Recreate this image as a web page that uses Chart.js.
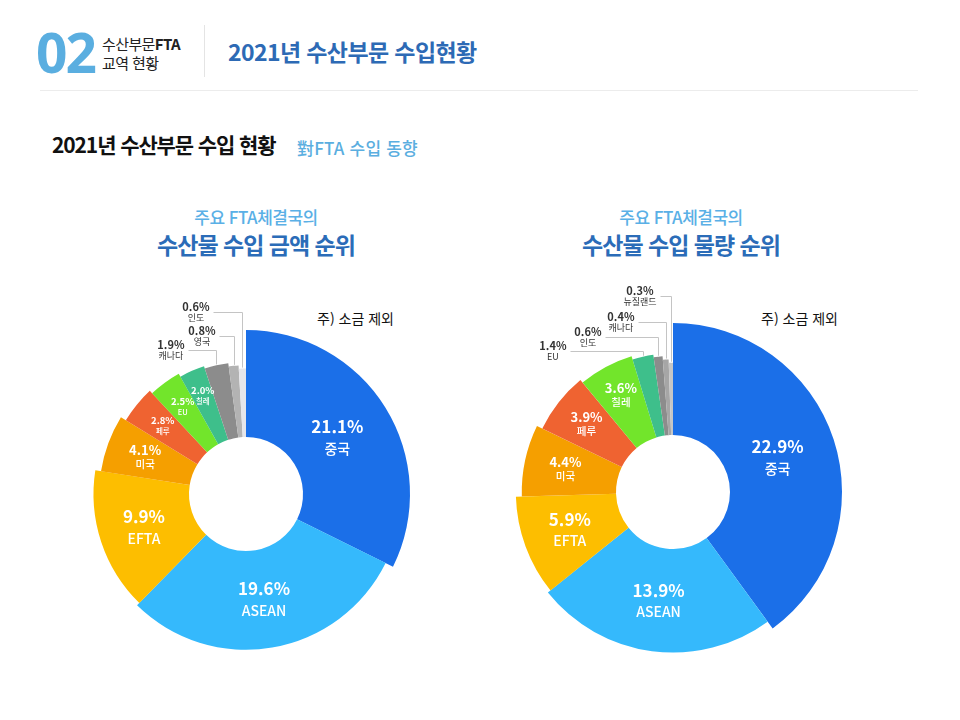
<!DOCTYPE html>
<html lang="ko">
<head>
<meta charset="UTF-8">
<title>2021년 수산부문 수입현황</title>
<script src="https://cdn.jsdelivr.net/npm/chart.js"></script>
<style>
  body { margin: 0; width: 960px; height: 720px; background: #fff; position: relative; overflow: hidden;
         font-family: 'Noto Sans CJK KR', 'Noto Sans', sans-serif; }
  .t { position: absolute; white-space: nowrap; line-height: 1; }
  .c { transform: translateX(-50%); }
  #num { left: 36px; top: 24px; font-size: 55px; font-weight: 700; color: #5aaee0; letter-spacing: -2px; font-family: 'Noto Sans', sans-serif; }
  .sect { left: 102px; font-size: 15px; color: #222; letter-spacing: -0.6px; }
  #sep { position: absolute; left: 204px; top: 25px; width: 1px; height: 52px; background: #e4e4e4; }
  #head { left: 228px; top: 40px; font-size: 23px; font-weight: 700; color: #2d6ab5; letter-spacing: -0.6px; }
  #rule { position: absolute; left: 40px; top: 90px; width: 878px; height: 1px; background: #ececec; }
  #sub { left: 52px; top: 134px; font-size: 21px; font-weight: 700; color: #111; letter-spacing: -1.1px; }
  #sub2 { left: 297px; top: 139px; font-size: 17px; font-weight: 500; color: #5aaee0; letter-spacing: 0.2px; }
  .ct1 { top: 208px; font-size: 17px; font-weight: 500; color: #5ab0e6; letter-spacing: -0.5px; }
  .ct2 { top: 233px; font-size: 23px; font-weight: 700; color: #2b6cb8; letter-spacing: -1px; }
  .note { top: 311px; font-size: 14px; color: #111; }
  canvas { position: absolute; top: 280px; }
</style>
</head>
<body>
<div class="t" id="num">02</div>
<div class="t sect" style="top:36px">수산부문<b>FTA</b></div>
<div class="t sect" style="top:55px">교역 현황</div>
<div id="sep"></div>
<div class="t" id="head">2021년 수산부문 수입현황</div>
<div id="rule"></div>
<div class="t" id="sub">2021년 수산부문 수입 현황</div>
<div class="t" id="sub2">對FTA 수입 동향</div>

<div class="t c ct1" style="left:256px">주요 FTA체결국의</div>
<div class="t c ct2" style="left:256px">수산물 수입 금액 순위</div>
<div class="t c ct1" style="left:681px">주요 FTA체결국의</div>
<div class="t c ct2" style="left:681px">수산물 수입 물량 순위</div>
<div class="t note" style="left:317px">주) 소금 제외</div>
<div class="t note" style="left:761px">주) 소금 제외</div>

<canvas id="valueChart" width="480" height="400" style="left:0"></canvas>
<canvas id="volumeChart" width="480" height="400" style="left:480px"></canvas>

<script>
// 수입 금액 순위 (비중 %)
const valueLabels = ['중국', 'ASEAN', 'EFTA', '미국', '페루', 'EU', '칠레', '캐나다', '영국', '인도'];
const valueShares = [21.1, 19.6, 9.9, 4.1, 2.8, 2.5, 2.0, 1.9, 0.8, 0.6];

// 수입 물량 순위 (비중 %)
const volumeLabels = ['중국', 'ASEAN', 'EFTA', '미국', '페루', '칠레', 'EU', '인도', '캐나다', '뉴질랜드'];
const volumeShares = [22.9, 13.9, 5.9, 4.4, 3.9, 3.6, 1.4, 0.6, 0.4, 0.3];

// 순위별 색 / 바깥 반지름 비율
const valueColors = ['#1b6fe8', '#35b9fc', '#fdbe00', '#f59f00', '#ef6331', '#72e52b', '#3ebf8b', '#8c8c8c', '#b3b3b3', '#e6e6ea'];
const volumeColors = ['#1b6fe8', '#35b9fc', '#fdbe00', '#f59f00', '#ef6331', '#72e52b', '#3ebf8b', '#8c8c8c', '#a6a6a6', '#c6c6c6'];
const rankScale = [1, 0.95, 0.93, 0.895, 0.86, 0.84, 0.82, 0.805, 0.785, 0.765];

const FONT = "'Noto Sans CJK KR', 'Noto Sans', sans-serif";

// 작은 조각의 지시선 (위로 올라가는 길이, 왼쪽으로 뻗는 길이)
const valueCallouts = [{ lift: 14, run: 28 }, { lift: 29, run: 15 }, { lift: 56, run: 29 }];
const volumeCallouts = [{ lift: 5, run: 73 }, { lift: 19, run: 53 }, { lift: 37, run: 28 }, { lift: 66, run: 11 }];

// 순위에 따라 조각마다 바깥 반지름을 다르게
const rankedRadius = {
    id: 'rankedRadius',
    beforeDatasetsDraw(chart) {
        const area = chart.chartArea;
        const maxR = Math.min(area.right - area.left, area.bottom - area.top) / 2;
        chart.getDatasetMeta(0).data.forEach((arc, i) => {
            arc.outerRadius = maxR * rankScale[i];
        });
    }
};

function sliceLabels(callouts) {
    return {
        id: 'sliceLabels',
        afterDatasetsDraw(chart) {
            const ctx = chart.ctx;
            const area = chart.chartArea;
            const maxR = Math.min(area.right - area.left, area.bottom - area.top) / 2;
            const names = chart.data.labels;
            const vals = chart.data.datasets[0].data;
            let k = 0;
            chart.getDatasetMeta(0).data.forEach((arc, i) => {
                const { x, y, startAngle, endAngle, innerRadius, outerRadius } = arc;
                const mid = (startAngle + endAngle) / 2;
                const span = (endAngle - startAngle) * 180 / Math.PI;
                const pct = vals[i].toFixed(1) + '%';
                ctx.save();
                ctx.textAlign = 'center';
                ctx.textBaseline = 'middle';
                if (vals[i] >= 2) {
                    const r = (innerRadius + maxR) / 2 - 3;
                    const cx = x + Math.cos(mid) * r;
                    const cy = y + Math.sin(mid) * r;
                    const [big, small, gap] = span >= 35 ? [17, 14, 11] : span >= 20 ? [13, 10.5, 7] : [9.5, 7.5, 5.5];
                    ctx.fillStyle = '#fff';
                    ctx.font = `700 ${big}px ${FONT}`;
                    ctx.fillText(pct, cx, cy - gap);
                    ctx.font = `500 ${small}px ${FONT}`;
                    ctx.fillText(names[i], cx, cy + gap);
                } else {
                    const c = callouts[k++];
                    const ax = Math.round(x + Math.cos(mid) * (outerRadius + 1)) + 0.5;
                    const ay = y + Math.sin(mid) * (outerRadius + 1);
                    const ey = Math.round(ay - c.lift) + 0.5;
                    const sx = ax - c.run;
                    ctx.strokeStyle = '#c4c4c4';
                    ctx.lineWidth = 1;
                    ctx.beginPath();
                    ctx.moveTo(ax, ay);
                    ctx.lineTo(ax, ey);
                    ctx.lineTo(sx, ey);
                    ctx.stroke();
                    ctx.font = `700 11px ${FONT}`;
                    const w1 = ctx.measureText(pct).width;
                    ctx.font = `400 9px ${FONT}`;
                    const w2 = ctx.measureText(names[i]).width;
                    const tx = sx - 4 - Math.max(w1, w2) / 2;
                    ctx.fillStyle = '#333';
                    ctx.font = `700 11px ${FONT}`;
                    ctx.fillText(pct, tx, ey - 6);
                    ctx.font = `400 9px ${FONT}`;
                    ctx.fillText(names[i], tx, ey + 5);
                }
                ctx.restore();
            });
        }
    };
}

function makeChart(id, labels, values, colors, callouts, cx, cy, maxR) {
    const canvas = document.getElementById(id);
    const W = canvas.width, H = canvas.height;
    return new Chart(canvas.getContext('2d'), {
        type: 'doughnut',
        data: {
            labels: labels,
            datasets: [{
                data: values,
                backgroundColor: colors,
                borderWidth: 0
            }]
        },
        options: {
            responsive: false,
            animation: false,
            events: [],
            cutout: 57,
            layout: {
                padding: { left: cx - maxR, top: cy - maxR, right: W - cx - maxR, bottom: H - cy - maxR }
            },
            plugins: {
                legend: { display: false },
                tooltip: { enabled: false }
            }
        },
        plugins: [rankedRadius, sliceLabels(callouts)]
    });
}

makeChart('valueChart', valueLabels, valueShares, valueColors, valueCallouts, 246, 214, 164);
makeChart('volumeChart', volumeLabels, volumeShares, volumeColors, volumeCallouts, 193, 212, 169);
</script>
</body>
</html>
